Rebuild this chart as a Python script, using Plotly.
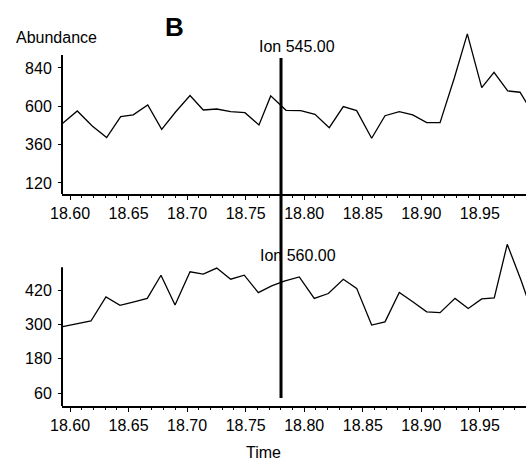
import plotly.graph_objects as go

# ---- data ----
time_545 = [18.5938, 18.6062, 18.6190, 18.6313, 18.6433, 18.6540, 18.6664, 18.6783,
            18.6903, 18.7025, 18.7138, 18.7253, 18.7372, 18.7494, 18.7614, 18.7714,
            18.7845, 18.7970, 18.8092, 18.8214, 18.8334, 18.8448, 18.8576, 18.8690,
            18.8812, 18.8927, 18.9046, 18.9160, 18.9282, 18.9393, 18.9516, 18.9621,
            18.9738, 18.9843, 18.9945]
abund_545 = [494, 571, 477, 404, 535, 546, 608, 456,
             566, 667, 577, 583, 566, 560, 483, 665,
             575, 573, 550, 466, 598, 573, 400, 541,
             566, 546, 498, 498, 777, 1053, 717, 813,
             696, 688, 565]

time_560 = [18.5938, 18.6060, 18.6179, 18.6307, 18.6427, 18.6547, 18.6660, 18.6777,
            18.6897, 18.7025, 18.7138, 18.7253, 18.7372, 18.7488, 18.7608, 18.7722,
            18.7830, 18.7958, 18.8086, 18.8206, 18.8334, 18.8448, 18.8576, 18.8690,
            18.8812, 18.8927, 18.9046, 18.9160, 18.9288, 18.9401, 18.9516, 18.9623,
            18.9734, 18.9851, 18.9971]
abund_560 = [292, 301, 312, 396, 367, 379, 391, 472,
             368, 484, 476, 497, 458, 472, 411, 435,
             451, 466, 391, 408, 458, 426, 298, 309,
             412, 379, 344, 341, 391, 356, 389, 393,
             580, 455, 315]

x_ticks = [18.60, 18.65, 18.70, 18.75, 18.80, 18.85, 18.90, 18.95]
x_tick_text = ["18.60", "18.65", "18.70", "18.75", "18.80", "18.85", "18.90", "18.95"]
y_ticks_545 = [120, 360, 600, 840]
y_ticks_560 = [60, 180, 300, 420]
marker_time = 18.7802
ion_labels = ["Ion 545.00", "Ion 560.00"]

# ---- layout geometry ----
W, H = 526, 461
def py(p):  # pixel row -> paper y
    return 1 - p / H
def px(p):
    return p / W

x_range = [18.59317, 18.98941]
FONT = "Liberation Sans, Arial, sans-serif"

fig = go.Figure()
fig.add_trace(go.Scatter(x=time_545, y=abund_545, mode="lines",
                         line=dict(color="black", width=1.3), xaxis="x", yaxis="y",
                         showlegend=False, hoverinfo="skip"))
fig.add_trace(go.Scatter(x=time_560, y=abund_560, mode="lines",
                         line=dict(color="black", width=1.3), xaxis="x2", yaxis="y2",
                         showlegend=False, hoverinfo="skip"))

xcommon = dict(range=x_range, tickvals=x_ticks, ticktext=x_tick_text,
               showline=True, linecolor="black", linewidth=1.5,
               ticks="outside", ticklen=4, tickcolor="black", tickwidth=1,
               minor=dict(dtick=0.01, ticks="outside", ticklen=2, tickcolor="black"),
               showgrid=False, zeroline=False, domain=[px(62), 1],
               automargin=False,
               tickfont=dict(size=16, family=FONT, color="black"))
ycommon = dict(showline=False, ticks="outside", ticklen=3, tickcolor="black",
               showgrid=False, zeroline=False, automargin=False,
               tickfont=dict(size=16, family=FONT, color="black"),
               ticklabelstandoff=3)

fig.update_layout(
    width=W, height=H, autosize=False,
    margin=dict(l=0, r=0, t=0, b=0, pad=0),
    paper_bgcolor="white", plot_bgcolor="white",
    font=dict(family=FONT, color="black"),
    xaxis=dict(**xcommon, anchor="y"),
    yaxis=dict(**ycommon, domain=[py(194), py(28)], range=[51, 1090],
               tickvals=y_ticks_545, anchor="x"),
    xaxis2=dict(**xcommon, anchor="y2"),
    yaxis2=dict(**ycommon, domain=[py(406), py(238)], range=[15, 602],
                tickvals=y_ticks_560, anchor="x2"),
)

# left axis lines (shorter than the plotting area, data peaks rise above them)
fig.add_shape(type="line", xref="paper", yref="y", x0=px(62), x1=px(62),
              y0=51, y1=921, line=dict(color="black", width=2))
fig.add_shape(type="line", xref="paper", yref="y2", x0=px(62), x1=px(62),
              y0=15, y1=500, line=dict(color="black", width=2))
# vertical marker line spanning both panels
fig.add_shape(type="line", xref="x", yref="paper", x0=marker_time, x1=marker_time,
              y0=py(398), y1=py(58), line=dict(color="black", width=3))

ann = dict(showarrow=False, xref="paper", yref="paper",
           xanchor="center", yanchor="middle")
fig.add_annotation(text="Abundance", x=px(56), y=py(37),
                   font=dict(size=16, family=FONT, color="black"), **ann)
fig.add_annotation(text="<b>B</b>", x=px(174), y=py(27),
                   font=dict(size=26, family=FONT, color="black"), **ann)
fig.add_annotation(text=ion_labels[0], x=px(297), y=py(47),
                   font=dict(size=16, family=FONT, color="black"), **ann)
fig.add_annotation(text=ion_labels[1], x=px(298), y=py(255),
                   font=dict(size=16, family=FONT, color="black"), **ann)
fig.add_annotation(text="Time", x=px(263), y=py(452),
                   font=dict(size=16, family=FONT, color="black"), **ann)

fig.write_html(
    "out.html",
    config={"displayModeBar": False},
    post_script="document.body.style.margin='0';document.body.style.padding='0';"
                "document.body.style.overflow='hidden';",
)
